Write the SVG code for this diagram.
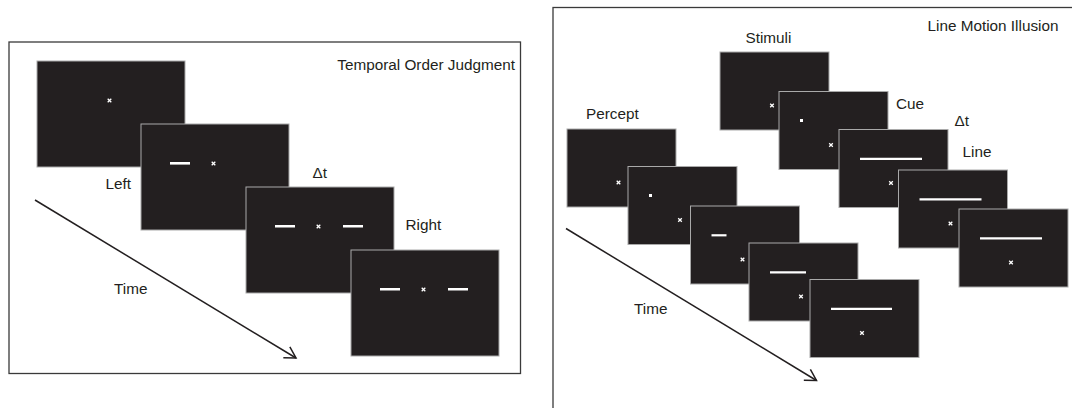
<svg xmlns="http://www.w3.org/2000/svg" xmlns:xlink="http://www.w3.org/1999/xlink" width="1072" height="408" viewBox="0 0 1072 408">
<style>
.panel{fill:#fff;stroke:#3a3a3a;stroke-width:1.3}
.scr{fill:#231f20;stroke:#a9a9a9;stroke-width:1}
.bar{stroke:#fff;stroke-width:2.6;fill:none}
.ln{stroke:#fff;stroke-width:2.2;fill:none}
.dot{fill:#fff}
.lbl{font-family:"Liberation Sans",Arial,sans-serif;font-size:15.3px;fill:#231f20}
.conn{stroke:#231f20;stroke-width:1.5;fill:none}
</style>
<defs>
<path id="fx" d="M-1.8,-1.8 L1.8,1.8 M-1.8,1.8 L1.8,-1.8" stroke="#fff" stroke-width="1.3" fill="none"/>
<marker id="openArrow" markerUnits="userSpaceOnUse" markerWidth="20" markerHeight="20" viewBox="-14 -10 20 20" refX="0" refY="0" orient="auto" overflow="visible">
<path d="M-11,-6.3 L0,0 L-11,6.3" fill="none" stroke="#231f20" stroke-width="1.5"/>
</marker>
</defs>
<rect width="1072" height="408" fill="#fff"/>

<!-- Left panel: Temporal Order Judgment -->
<g id="panel-toj">
<rect class="panel" x="9" y="42" width="511.5" height="331.5"/>
<text class="lbl" x="515" y="69.5" text-anchor="end">Temporal Order Judgment</text>
</g>
<g id="toj-screen1" transform="translate(37,61)">
<rect class="scr" x="0" y="0" width="148" height="106"/>
<use xlink:href="#fx" href="#fx" x="72.5" y="39.5"/>
</g>
<g id="toj-screen2" transform="translate(141,124)">
<rect class="scr" x="0" y="0" width="148" height="106"/>
<path class="bar" d="M29,39.3 H49"/>
<use xlink:href="#fx" href="#fx" x="72.5" y="39.5"/>
</g>
<g id="toj-screen3" transform="translate(246,187)">
<rect class="scr" x="0" y="0" width="148" height="106"/>
<path class="bar" d="M29,39.3 H49 M97,39.3 H117"/>
<use xlink:href="#fx" href="#fx" x="72.5" y="39.5"/>
</g>
<g id="toj-screen4" transform="translate(351,250)">
<rect class="scr" x="0" y="0" width="148" height="106"/>
<path class="bar" d="M29,39.3 H49 M97,39.3 H117"/>
<use xlink:href="#fx" href="#fx" x="72.5" y="39.5"/>
</g>
<g id="toj-labels">
<text class="lbl" x="105.5" y="188.5">Left</text>
<text class="lbl" x="312.5" y="177.5">Δt</text>
<text class="lbl" x="405.5" y="229.5">Right</text>
<text class="lbl" x="114" y="293.5">Time</text>
</g>

<!-- Right panel: Line Motion Illusion -->
<g id="panel-lmi">
<rect class="panel" x="553" y="7.5" width="530" height="420"/>
<text class="lbl" x="927.5" y="31">Line Motion Illusion</text>
</g>
<g id="stim-1" transform="translate(720,52)">
<rect class="scr" x="0" y="0" width="109" height="78"/>
<use xlink:href="#fx" href="#fx" x="52" y="53.5"/>
</g>
<g id="stim-2" transform="translate(779,91.5)">
<rect class="scr" x="0" y="0" width="109" height="78"/>
<rect class="dot" x="21" y="27.5" width="3" height="3"/>
<use xlink:href="#fx" href="#fx" x="52" y="53.5"/>
</g>
<g id="stim-3" transform="translate(839,129.5)">
<rect class="scr" x="0" y="0" width="109" height="78"/>
<path class="ln" d="M21,29.3 H83"/>
<use xlink:href="#fx" href="#fx" x="52" y="53.5"/>
</g>
<g id="stim-4" transform="translate(898.5,170)">
<rect class="scr" x="0" y="0" width="109" height="78"/>
<path class="ln" d="M21,29.3 H83"/>
<use xlink:href="#fx" href="#fx" x="52" y="53.5"/>
</g>
<g id="stim-5" transform="translate(959,209)">
<rect class="scr" x="0" y="0" width="109" height="78"/>
<path class="ln" d="M21,29.3 H83"/>
<use xlink:href="#fx" href="#fx" x="52" y="53.5"/>
</g>
<g id="percept-1" transform="translate(567,129)">
<rect class="scr" x="0" y="0" width="109" height="78"/>
<use xlink:href="#fx" href="#fx" x="51.5" y="53.5"/>
</g>
<g id="percept-2" transform="translate(628,166.5)">
<rect class="scr" x="0" y="0" width="109" height="78"/>
<rect class="dot" x="21" y="27.5" width="3" height="3"/>
<use xlink:href="#fx" href="#fx" x="52" y="53.5"/>
</g>
<g id="percept-3" transform="translate(690.5,206)">
<rect class="scr" x="0" y="0" width="109" height="78"/>
<path class="ln" d="M21,29.3 H36"/>
<use xlink:href="#fx" href="#fx" x="52" y="53.5"/>
</g>
<g id="percept-4" transform="translate(749,243)">
<rect class="scr" x="0" y="0" width="109" height="78"/>
<path class="ln" d="M21,29.3 H57"/>
<use xlink:href="#fx" href="#fx" x="52" y="53.5"/>
</g>
<g id="percept-5" transform="translate(810,279.5)">
<rect class="scr" x="0" y="0" width="109" height="78"/>
<path class="ln" d="M21,29.3 H82"/>
<use xlink:href="#fx" href="#fx" x="52" y="53.5"/>
</g>
<g id="lmi-labels">
<text class="lbl" x="745.5" y="43">Stimuli</text>
<text class="lbl" x="586" y="119">Percept</text>
<text class="lbl" x="896" y="109">Cue</text>
<text class="lbl" x="954.5" y="126">Δt</text>
<text class="lbl" x="962.5" y="156.5">Line</text>
<text class="lbl" x="634" y="314">Time</text>
</g>

<g id="connectors">
<path class="conn" d="M35,200 L296,358" marker-end="url(#openArrow)"/>
<path class="conn" d="M566,228.5 L816.5,380.5" marker-end="url(#openArrow)"/>
</g>
</svg>
